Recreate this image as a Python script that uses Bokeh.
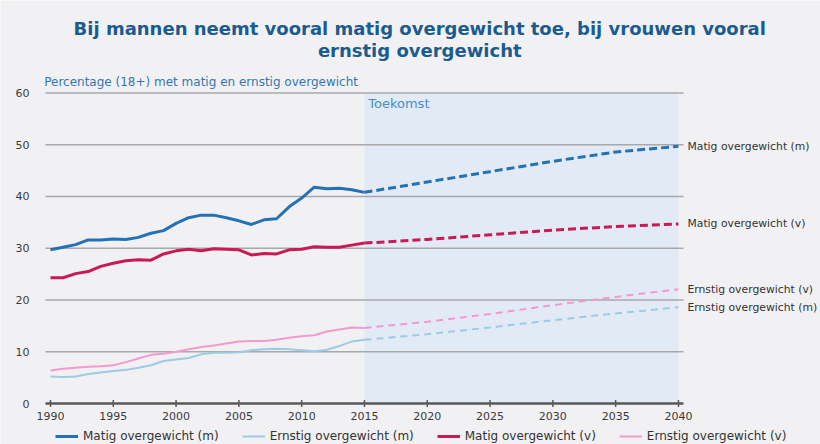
from bokeh.plotting import figure
from bokeh.models import (BoxAnnotation, Label, Legend, LegendItem, ColumnDataSource, Range1d)
from bokeh.core.properties import value
from bokeh.embed import file_html
from bokeh.resources import INLINE

# ---- data ----
years_hist = list(range(1990, 2016))
years_proj = [2015, 2020, 2025, 2030, 2035, 2040]

matig_m = [29.7, 30.2, 30.7, 31.6, 31.6, 31.8, 31.7, 32.1, 32.9, 33.4, 34.8, 35.9, 36.4,
           36.4, 35.9, 35.3, 34.6, 35.5, 35.7, 38.0, 39.7, 41.8, 41.5, 41.6, 41.3, 40.8]
ernstig_m = [5.2, 5.1, 5.2, 5.7, 6.0, 6.3, 6.5, 6.9, 7.4, 8.2, 8.5, 8.8, 9.5,
             9.8, 9.8, 9.9, 10.3, 10.5, 10.6, 10.5, 10.3, 10.1, 10.4, 11.1, 12.0, 12.3]
matig_v = [24.3, 24.3, 25.1, 25.5, 26.5, 27.1, 27.6, 27.8, 27.7, 28.9, 29.5, 29.8, 29.5,
           29.9, 29.8, 29.7, 28.7, 29.0, 28.9, 29.7, 29.8, 30.3, 30.2, 30.2, 30.6, 31.0]
ernstig_v = [6.4, 6.7, 6.9, 7.1, 7.2, 7.4, 8.0, 8.7, 9.4, 9.6, 10.0, 10.5, 10.9,
             11.2, 11.6, 12.0, 12.1, 12.1, 12.3, 12.7, 13.0, 13.2, 13.9, 14.3, 14.7, 14.6]

matig_m_proj = [40.8, 42.8, 44.8, 46.8, 48.6, 49.7]
ernstig_m_proj = [12.3, 13.4, 14.7, 16.1, 17.4, 18.6]
matig_v_proj = [31.0, 31.7, 32.6, 33.5, 34.2, 34.7]
ernstig_v_proj = [14.6, 15.8, 17.3, 19.0, 20.6, 22.1]

series_names = ["Matig overgewicht (m)", "Ernstig overgewicht (m)",
                "Matig overgewicht (v)", "Ernstig overgewicht (v)"]
y_ticks = [0, 10, 20, 30, 40, 50, 60]
x_ticks = [1990, 1995, 2000, 2005, 2010, 2015, 2020, 2025, 2030, 2035, 2040]

title_lines = ["Bij mannen neemt vooral matig overgewicht toe, bij vrouwen vooral",
               "ernstig overgewicht"]
subtitle = "Percentage (18+) met matig en ernstig overgewicht"
future_label = "Toekomst"
future_start, future_end = 2015, 2040

# ---- styles ----
BG = "#f1f1f4"
FONT = "DejaVu Sans"
colors = ["#2471b3", "#9ccbe3", "#c81a55", "#f29ad0"]
widths = [3, 2, 3, 2]
dashes = ["8 4", "7 5", "8 4", "7 5"]
GRID = "#a9a9ab"
AXIS = "#58585a"

# frame spans the whole canvas; ranges chosen so 1990..2040 / 0..60 sit where the reference has them
p = figure(width=820, height=444, output_backend="svg", toolbar_location=None,
           x_range=Range1d(1986.02, 2051.31), y_range=Range1d(-7.92, 77.87),
           x_axis_location=None, y_axis_location=None,
           min_border_left=0, min_border_right=0, min_border_top=0, min_border_bottom=0)
p.background_fill_color = BG
p.border_fill_color = BG
p.outline_line_color = None
p.grid.visible = False

x_lo, x_hi = x_ticks[0] - 0.4, x_ticks[-1] + 0.4

# future shading
p.add_layout(BoxAnnotation(left=future_start, right=future_end, bottom=y_ticks[0], top=y_ticks[-1],
                           fill_color="#e2eaf5", fill_alpha=1.0, line_color=None, level="underlay"))

# horizontal grid lines
grid_src = ColumnDataSource(dict(y=y_ticks[1:], x0=[x_lo] * (len(y_ticks) - 1),
                                 x1=[x_hi] * (len(y_ticks) - 1)))
p.segment(x0="x0", x1="x1", y0="y", y1="y", source=grid_src, line_color=GRID, line_width=1.5)

# x axis baseline and ticks
p.segment(x0=[x_lo], x1=[x_hi], y0=[y_ticks[0]], y1=[y_ticks[0]], line_color=AXIS, line_width=2.5)
p.scatter(x=x_ticks, y=[y_ticks[0]] * len(x_ticks), marker="dash", angle=1.5708, size=7,
          line_color=AXIS, line_width=1.5)

# tick labels
p.text(x=x_ticks, y=[y_ticks[0]] * len(x_ticks), text=[str(t) for t in x_ticks],
       y_offset=12, text_align="center", text_baseline="middle",
       text_font=value(FONT), text_font_size="11px", text_color="#3a3a3a")
p.text(x=[x_ticks[0]] * len(y_ticks), y=y_ticks, text=[str(t) for t in y_ticks],
       x_offset=-21, text_align="right", text_baseline="middle",
       text_font=value(FONT), text_font_size="11px", text_color="#3a3a3a")

hist = [matig_m, ernstig_m, matig_v, ernstig_v]
proj = [matig_m_proj, ernstig_m_proj, matig_v_proj, ernstig_v_proj]

renderers = []
for h, pr, c, w, d in zip(hist, proj, colors, widths, dashes):
    r = p.line(years_hist, h, line_color=c, line_width=w)
    p.line(years_proj, pr, line_color=c, line_width=w, line_dash=d)
    renderers.append(r)

# end labels
end_src = ColumnDataSource(dict(x=[years_proj[-1]] * 4, y=[pr[-1] for pr in proj], t=series_names))
p.text(x="x", y="y", text="t", source=end_src, x_offset=9, text_baseline="middle",
       text_font=value(FONT), text_font_size="10.8px", text_color="#333333")

# titles
for i, line in enumerate(title_lines):
    p.add_layout(Label(x=2019.4, y=72.46 - i * 4.25, text=line, text_align="center",
                       text_baseline="middle", text_font=FONT, text_font_size="18px",
                       text_font_style="bold", text_color="#1b5b8e"))
p.add_layout(Label(x=1989.5, y=62.2, text=subtitle, text_baseline="middle",
                   text_font=FONT, text_font_size="12px", text_color="#3577ad"))
p.add_layout(Label(x=future_start + 0.3, y=58.0, text=future_label, text_baseline="middle",
                   text_font=FONT, text_font_size="13px", text_color="#4a8cc4"))

legend = Legend(items=[LegendItem(label=n, renderers=[r]) for n, r in zip(series_names, renderers)],
                orientation="horizontal", location=(55, 1), padding=0, margin=0,
                spacing=23, glyph_width=23, glyph_height=14, label_height=14, label_standoff=5,
                label_text_font=FONT, label_text_font_size="12px", label_text_color="#333333",
                border_line_color=None, background_fill_alpha=0)
p.add_layout(legend, "center")

open("out.html", "w").write(file_html(p, INLINE))
